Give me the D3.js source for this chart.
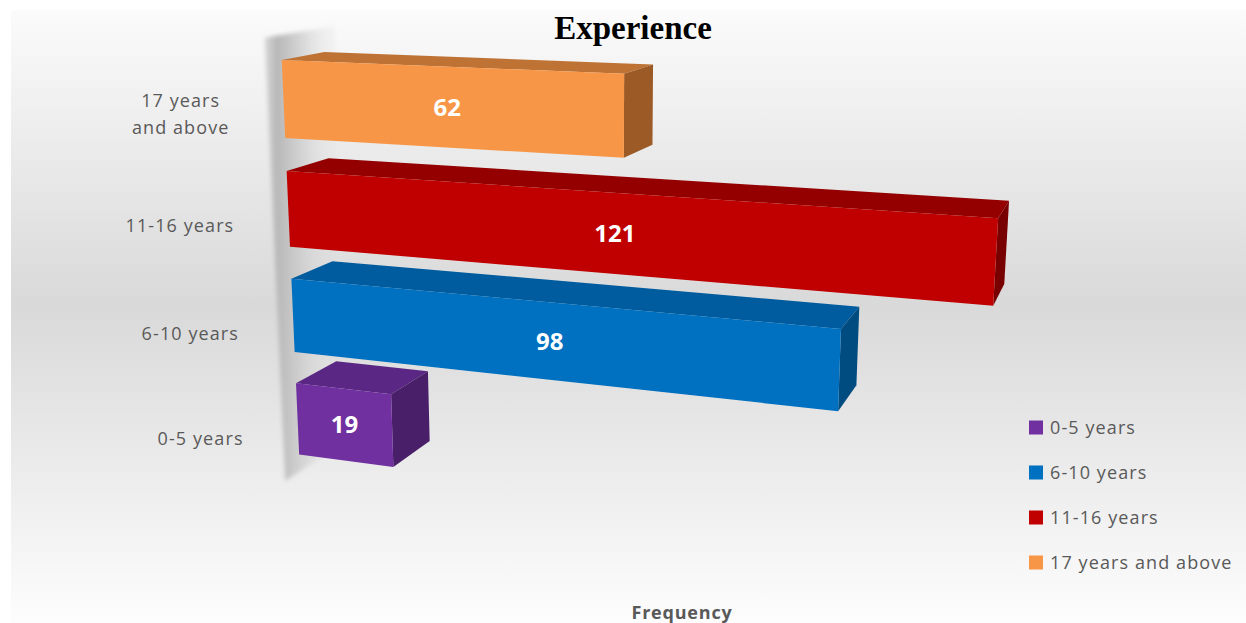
<!DOCTYPE html>
<html>
<head>
<meta charset="utf-8">
<script src="https://cdn.jsdelivr.net/npm/d3@7/dist/d3.min.js"></script>
<style>
  body { margin: 0; background: #ffffff; }
  svg { display: block; }
</style>
</head>
<body>
<figure id="experience" style="margin:0"></figure>
<script>
// chart values
const categories = ["0-5 years", "6-10 years", "11-16 years", "17 years and above"];
const frequency = [19, 98, 121, 62];
const axisLines = [["0-5 years"], ["6-10 years"], ["11-16 years"], ["17 years", "and above"]];
const frontColors = ["#7030A0", "#0070C0", "#C00000", "#F79646"];
const topColors = ["#5B2784", "#005C9E", "#940000", "#BE7335"];
const endColors = ["#4A1F69", "#004B80", "#780000", "#9C5A27"];

const W = 1246, H = 623;

// perspective camera (rotation in degrees, like the office 3-D settings)
const cam = { rotX: 13, rotY: 20, focal: 1620, cx: 600, cy: 263, ox: -319, oy: -220, oz: 1620 };
const rad = Math.PI / 180;
function project(X, Y, Z) {
  const cb = Math.cos(cam.rotY * rad), sb = Math.sin(cam.rotY * rad);
  const ca = Math.cos(cam.rotX * rad), sa = Math.sin(cam.rotX * rad);
  const x1 = X * cb + Z * sb, z1 = -X * sb + Z * cb;
  const y2 = Y * ca - z1 * sa, z2 = Y * sa + z1 * ca;
  const xv = x1 + cam.ox, yv = y2 + cam.oy, zv = z2 + cam.oz;
  return [cam.cx + cam.focal * xv / zv, cam.cy + cam.focal * yv / zv];
}
function face(pts) {
  return "M" + pts.map(p => project(p[0], p[1], p[2]).join(",")).join("L") + "Z";
}

const plotH = 451, depth = 86;

const x = d3.scaleLinear()
  .domain([0, d3.max(frequency)])
  .range([0, 709]);

// top of the chart is the last category
const y = d3.scaleBand()
  .domain(categories.slice().reverse())
  .range([0, plotH])
  .paddingInner(0.3)
  .paddingOuter(0.15);

const svg = d3.select("#experience")
  .append("svg")
  .attr("width", W)
  .attr("height", H);

const defs = svg.append("defs");

const bg = defs.append("linearGradient")
  .attr("id", "bgGrad")
  .attr("x1", 0).attr("y1", 0).attr("x2", 0).attr("y2", 1);
bg.append("stop").attr("offset", "0%").attr("stop-color", "#fbfbfb");
bg.append("stop").attr("offset", "48%").attr("stop-color", "#d9d9d9");
bg.append("stop").attr("offset", "100%").attr("stop-color", "#fdfdfd");

svg.append("rect")
  .attr("x", 11).attr("y", 10)
  .attr("width", W - 11).attr("height", H - 10)
  .attr("fill", "url(#bgGrad)");

// side wall at value 0, shaded left to right
const wallZ = [-30, 110];
const wg = defs.append("linearGradient")
  .attr("id", "wallGrad")
  .attr("x1", 0).attr("y1", 0).attr("x2", 1).attr("y2", 0);
wg.append("stop").attr("offset", "0%").attr("stop-color", "#d0d0d0").attr("stop-opacity", 0.8);
wg.append("stop").attr("offset", "14%").attr("stop-color", "#b8b8b8").attr("stop-opacity", 1);
wg.append("stop").attr("offset", "32%").attr("stop-color", "#c4c4c4").attr("stop-opacity", 0.9);
wg.append("stop").attr("offset", "65%").attr("stop-color", "#d8d8d8").attr("stop-opacity", 0.4);
wg.append("stop").attr("offset", "100%").attr("stop-color", "#e6e6e6").attr("stop-opacity", 0);

defs.append("filter")
  .attr("id", "soft")
  .attr("x", "-20%").attr("y", "-5%").attr("width", "140%").attr("height", "110%")
  .append("feGaussianBlur").attr("stdDeviation", 2);

svg.append("path")
  .attr("d", face([[0, -8, wallZ[0]], [0, -8, wallZ[1]], [0, plotH + 2, wallZ[1]], [0, plotH + 2, wallZ[0]]]))
  .attr("fill", "url(#wallGrad)")
  .attr("filter", "url(#soft)");

// bars, bottom ones first so the upper (nearer) bars sit in front
const bars = categories.map((c, i) => ({ cat: c, value: frequency[i], i: i }));

const g = svg.selectAll("g.bar")
  .data(bars)
  .enter()
  .append("g")
  .attr("class", "bar");

g.each(function(d) {
  const x1 = x(d.value), y0 = y(d.cat), y1 = y0 + y.bandwidth();
  const el = d3.select(this);
  el.append("path")
    .attr("d", face([[0, y0, 0], [x1, y0, 0], [x1, y0, depth], [0, y0, depth]]))
    .attr("fill", topColors[d.i]);
  el.append("path")
    .attr("d", face([[x1, y0, 0], [x1, y0, depth], [x1, y1, depth], [x1, y1, 0]]))
    .attr("fill", endColors[d.i]);
  el.append("path")
    .attr("d", face([[0, y0, 0], [x1, y0, 0], [x1, y1, 0], [0, y1, 0]]))
    .attr("fill", frontColors[d.i]);
  const c = project(x1 / 2, y0 + y.bandwidth() / 2, 0);
  el.append("text")
    .attr("x", c[0]).attr("y", c[1])
    .attr("dy", "0.36em")
    .attr("text-anchor", "middle")
    .attr("fill", "#ffffff")
    .style("font-family", "'Open Sans', sans-serif")
    .style("font-weight", 700)
    .style("font-size", "24px")
    .text(d.value);
});

// category labels on the left
const labelFont = "'Open Sans', sans-serif";
const labelDrop = d3.scaleLinear().domain([0, plotH]).range([14, 20]);
bars.forEach(function(d) {
  const yc = y(d.cat) + y.bandwidth() / 2;
  const p = project(0, yc, 0);
  const lines = axisLines[d.i];
  const t = svg.append("text")
    .attr("fill", "#595959")
    .style("font-family", labelFont)
    .style("font-size", "18px")
    .style("letter-spacing", "1.1px");
  lines.forEach(function(line) {
    t.append("tspan").text(line);
  });
  // widest line sets the block, lines are centred in it
  const widths = [];
  t.selectAll("tspan").each(function() { widths.push(this.getComputedTextLength()); });
  const wMax = d3.max(widths);
  const cx = p[0] - 54 - wMax / 2;
  const cy = p[1] + labelDrop(yc) - (lines.length - 1) * 27 / 2;
  t.attr("text-anchor", "middle");
  t.selectAll("tspan")
    .attr("x", cx)
    .attr("y", (l, k) => cy + k * 27)
    .attr("dy", "0.36em");
});

// title
svg.append("text")
  .attr("x", 633).attr("y", 39)
  .attr("text-anchor", "middle")
  .attr("fill", "#000000")
  .style("font-family", "'Liberation Serif', 'Times New Roman', serif")
  .style("font-weight", 700)
  .style("font-size", "33px")
  .text("Experience");

// value axis title
svg.append("text")
  .attr("x", 682).attr("y", 619)
  .attr("text-anchor", "middle")
  .attr("fill", "#595959")
  .style("font-family", labelFont)
  .style("font-weight", 700)
  .style("font-size", "18px")
  .style("letter-spacing", "0.8px")
  .text("Frequency");

// legend
const legend = svg.selectAll("g.legend")
  .data(categories)
  .enter()
  .append("g")
  .attr("class", "legend")
  .attr("transform", (d, i) => "translate(1029," + (427.5 + i * 45) + ")");

legend.append("rect")
  .attr("x", 0).attr("y", -7)
  .attr("width", 14).attr("height", 14)
  .attr("fill", (d, i) => frontColors[i]);

legend.append("text")
  .attr("x", 21).attr("y", 0)
  .attr("dy", "0.36em")
  .attr("fill", "#595959")
  .style("font-family", labelFont)
  .style("font-size", "18px")
  .style("letter-spacing", "1.1px")
  .text(d => d);
</script>
</body>
</html>
